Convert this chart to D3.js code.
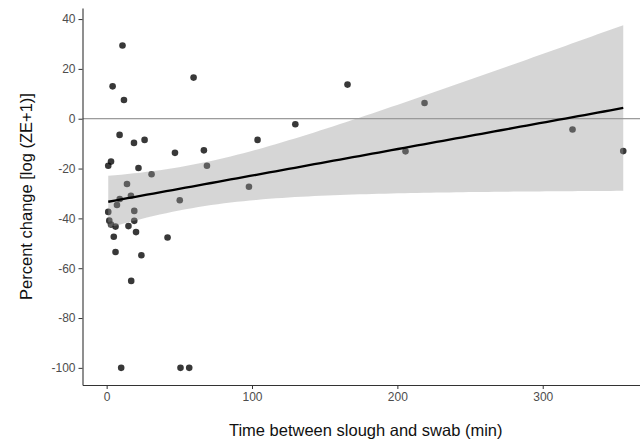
<!DOCTYPE html>
<html>
<head>
<meta charset="utf-8">
<script src="https://cdn.jsdelivr.net/npm/d3@7"></script>
<style>
  body { margin: 0; background: #fff; }
  svg { display: block; font-family: "Liberation Sans", Arial, sans-serif; }
</style>
</head>
<body>
<div id="container"></div>
<script>
// time between slough and swab (min)
var minutes = [10.9, 59.8, 4.1, 11.9, 8.9, 18.8, 26.1, 47.0, 66.9, 103.8,
  3.0, 1.1, 21.9, 69.0, 30.9, 14.0, 97.9, 16.7, 9.0, 7.1,
  50.3, 1.1, 19.0, 1.8, 19.0, 3.0, 6.1, 15.0, 20.2, 4.9,
  41.9, 6.1, 23.9, 16.9, 10.0, 50.8, 56.8, 165.7, 218.7, 129.8,
  205.6, 320.5, 355.4];
// percent change [log (ZE+1)]
var change = [29.4, 16.5, 13.0, 7.5, -6.5, -9.7, -8.5, -13.7, -12.7, -8.5,
  -17.2, -18.9, -19.8, -18.9, -22.3, -26.2, -27.3, -30.9, -32.2, -34.6,
  -32.7, -37.4, -37.0, -40.9, -41.0, -42.5, -43.3, -43.1, -45.5, -47.4,
  -47.7, -53.5, -54.8, -65.1, -100, -100, -100, 13.7, 6.3, -2.2,
  -13.1, -4.3, -13.0];

var xTicks = [0, 100, 200, 300];
var yTicks = [-100, -80, -60, -40, -20, 0, 20, 40];
var tCrit = 2.02; // t(0.975, df = n - 2)

var W = 640, H = 444;
var svg = d3.select("#container").append("svg")
  .attr("width", W).attr("height", H);

var pts = minutes.map(function(m, i) { return {x: m, y: change[i]}; });

// linear fit + 95% confidence band
var n = pts.length;
var xbar = d3.mean(minutes), ybar = d3.mean(change);
var sxx = d3.sum(minutes, function(v) { return (v - xbar) * (v - xbar); });
var sxy = d3.sum(pts, function(p) { return (p.x - xbar) * (p.y - ybar); });
var slope = sxy / sxx, icpt = ybar - slope * xbar;
var sse = d3.sum(pts, function(p) { var r = p.y - (icpt + slope * p.x); return r * r; });
var s = Math.sqrt(sse / (n - 2));

var xExt = d3.extent(minutes);
var fit = d3.range(81).map(function(i) {
  var xv = xExt[0] + (xExt[1] - xExt[0]) * i / 80;
  var yh = icpt + slope * xv;
  var hw = tCrit * s * Math.sqrt(1 / n + (xv - xbar) * (xv - xbar) / sxx);
  return {x: xv, y: yh, lo: yh - hw, hi: yh + hw};
});

var yMin = d3.min(fit.map(function(d) { return d.lo; }).concat(change));
var yMax = d3.max(fit.map(function(d) { return d.hi; }).concat(change));
var xPad = (xExt[1] - xExt[0]) * 0.05, yPad = (yMax - yMin) * 0.05;

var pL = 82.5, pT = 8, pB = 385, pR = 649;
var x = d3.scaleLinear().domain([xExt[0] - xPad, xExt[1] + xPad]).range([pL, pR]);
var y = d3.scaleLinear().domain([yMin - yPad, yMax + yPad]).range([pB, pT]);

svg.append("defs").append("clipPath").attr("id", "clip")
  .append("rect").attr("x", pL).attr("y", pT)
  .attr("width", pR - pL).attr("height", pB - pT);

var panel = svg.append("g").attr("clip-path", "url(#clip)");

panel.append("line")
  .attr("x1", pL).attr("x2", pR)
  .attr("y1", y(0)).attr("y2", y(0))
  .attr("stroke", "#808080").attr("stroke-width", 1);

panel.selectAll("circle").data(pts).enter().append("circle")
  .attr("cx", function(d) { return x(d.x); })
  .attr("cy", function(d) { return y(d.y); })
  .attr("r", 3.3)
  .attr("fill", "#000").attr("fill-opacity", 0.78);

panel.append("path")
  .datum(fit)
  .attr("fill", "#999").attr("fill-opacity", 0.4)
  .attr("d", d3.area()
    .x(function(d) { return x(d.x); })
    .y0(function(d) { return y(d.lo); })
    .y1(function(d) { return y(d.hi); }));

panel.append("path")
  .datum(fit)
  .attr("fill", "none").attr("stroke", "#000").attr("stroke-width", 2.3)
  .attr("d", d3.line()
    .x(function(d) { return x(d.x); })
    .y(function(d) { return y(d.y); }));

// axes (plain hyphen for negatives, like the original)
var fmt = function(d) { return String(d); };
var xAxis = svg.append("g")
  .attr("transform", "translate(0," + pB + ")")
  .call(d3.axisBottom(x).tickValues(xTicks).tickFormat(fmt)
    .tickSize(4).tickPadding(3).tickSizeOuter(0));
var yAxis = svg.append("g")
  .attr("transform", "translate(" + pL + ",0)")
  .call(d3.axisLeft(y).tickValues(yTicks).tickFormat(fmt)
    .tickSize(4).tickPadding(3).tickSizeOuter(0));

[xAxis, yAxis].forEach(function(g) {
  g.select(".domain").attr("stroke", "#333").attr("stroke-width", 1.1);
  g.selectAll(".tick line").attr("stroke", "#333");
  g.selectAll(".tick text").attr("fill", "#4d4d4d")
    .style("font-size", "12px").style("font-family", "Liberation Sans, Arial, sans-serif");
});

svg.append("text")
  .attr("x", (pL + pR) / 2).attr("y", 436)
  .attr("text-anchor", "middle")
  .style("font-size", "16.5px").attr("fill", "#111")
  .text("Time between slough and swab (min)");

svg.append("text")
  .attr("transform", "translate(32," + (pT + pB) / 2 + ") rotate(-90)")
  .attr("text-anchor", "middle")
  .style("font-size", "16.5px").attr("fill", "#111")
  .text("Percent change [log (ZE+1)]");
</script>
</body>
</html>
